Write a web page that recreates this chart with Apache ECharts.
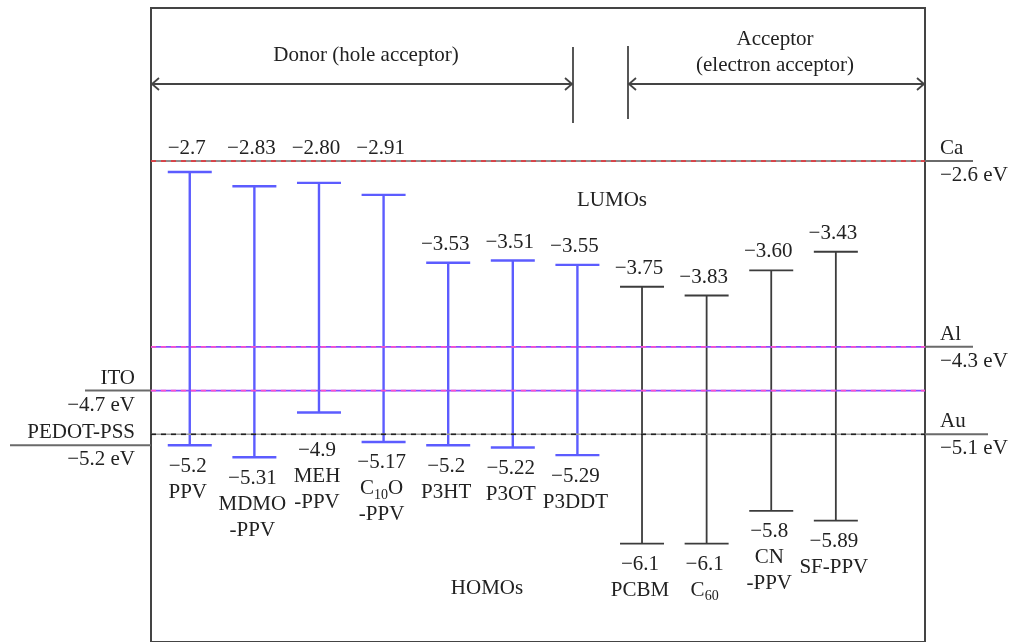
<!DOCTYPE html>
<html>
<head>
<meta charset="utf-8">
<script src="https://cdn.jsdelivr.net/npm/echarts@6/dist/echarts.min.js"></script>
<style>
  html, body { margin: 0; padding: 0; background: #fff; }
  #chart { width: 1011px; height: 642px; }
</style>
</head>
<body>
<div id="chart"></div>
<script>
// Materials (donors then acceptors) with LUMO / HOMO energies in eV
const materials = ['PPV', 'MDMO-PPV', 'MEH-PPV', 'C10O-PPV', 'P3HT', 'P3OT', 'P3DDT', 'PCBM', 'C60', 'CN-PPV', 'SF-PPV'];
const materialLabels = ['PPV', 'MDMO\n-PPV', 'MEH\n-PPV', '{n|C}{s|10}{n|O}\n-PPV', 'P3HT', 'P3OT', 'P3DDT', 'PCBM', '{n|C}{s|60}', 'CN\n-PPV', 'SF-PPV'];
const materialRole = ['donor', 'donor', 'donor', 'donor', 'donor', 'donor', 'donor', 'acceptor', 'acceptor', 'acceptor', 'acceptor'];
const lumo = [-2.7, -2.83, -2.80, -2.91, -3.53, -3.51, -3.55, -3.75, -3.83, -3.60, -3.43];
const lumoDigits = [1, 2, 2, 2, 2, 2, 2, 2, 2, 2, 2];
const homo = [-5.2, -5.31, -4.9, -5.17, -5.2, -5.22, -5.29, -6.1, -6.1, -5.8, -5.89];
const homoDigits = [1, 2, 1, 2, 1, 2, 2, 1, 1, 1, 2];

// Electrode work functions in eV
const electrodes = ['Ca', 'Al', 'ITO', 'Au', 'PEDOT-PSS'];
const electrodeLevels = [-2.6, -4.3, -4.7, -5.1, -5.2];

const FONT = '"Liberation Serif", "DejaVu Serif", serif';
const FS = 21;
const TEXT = '#222';
const fmt = (v, d) => '\u2212' + Math.abs(v).toFixed(d);

const chart = echarts.init(document.getElementById('chart'), null, { renderer: 'canvas' });

// how each electrode level is drawn: inner dashed style and the side of its outer tab
const levelStyle = {
  'Ca':        { side: 'right', outer: 48, base: '#6a6a6a', dash: '#e8343a' },
  'Al':        { side: 'right', outer: 48, base: '#8a4dff', dash: '#ff4fc8' },
  'ITO':       { side: 'left',  outer: 66, base: '#8a4dff', dash: '#ff4fc8' },
  'Au':        { side: 'right', outer: 63, base: '#9a9a9a', dash: '#222222' },
  'PEDOT-PSS': { side: 'left',  outer: 141, base: null, dash: null }
};

function renderLevel(params, api) {
  const idx = api.value(0);
  const name = electrodes[idx];
  const st = levelStyle[name];
  const cs = params.coordSys;
  const y = api.coord([0, api.value(1)])[1];
  const left = cs.x, right = cs.x + cs.width;
  const children = [];
  if (st.base) {
    children.push({ type: 'line', shape: { x1: left, y1: y, x2: right, y2: y },
      style: { stroke: st.base, lineWidth: 1.6 } });
    children.push({ type: 'line', shape: { x1: left, y1: y, x2: right, y2: y },
      style: { stroke: st.dash, lineWidth: 1.6, lineDash: [5, 5] } });
  }
  const x1 = st.side === 'right' ? right : left - st.outer;
  const x2 = st.side === 'right' ? right + st.outer : left;
  children.push({ type: 'line', shape: { x1: x1, y1: y, x2: x2, y2: y },
    style: { stroke: '#6a6a6a', lineWidth: 2 } });
  const tx = st.side === 'right' ? right + 15 : left - 16;
  const align = st.side === 'right' ? 'left' : 'right';
  children.push({ type: 'text', style: { text: name, x: tx, y: y - 2, align: align, verticalAlign: 'bottom',
    font: FS + 'px ' + FONT, fill: TEXT } });
  children.push({ type: 'text', style: { text: fmt(api.value(1), 1) + ' eV', x: tx, y: y + 4, align: align, verticalAlign: 'top',
    font: FS + 'px ' + FONT, fill: TEXT } });
  return { type: 'group', children: children };
}

function renderMaterial(params, api) {
  const i = api.value(0);
  const top = api.coord([i, api.value(1)]);
  const bot = api.coord([i, api.value(2)]);
  const donor = materialRole[i] === 'donor';
  const color = donor ? '#5c5cff' : '#3c3c3c';
  const lw = donor ? 2.4 : 1.8;
  const cap = 22;
  const caY = api.coord([0, electrodeLevels[0]])[1];
  const auY = api.coord([0, electrodeLevels[3]])[1];
  const x = top[0];
  // LUMO value sits above its cap, or above the Ca line when the cap is close to it
  const topLabelY = (top[1] - 30 < caY + 15) ? caY - 2 : top[1] - 8;
  const rich = {
    v: { fontSize: FS, fontFamily: FONT, fill: TEXT, lineHeight: 26 },
    n: { fontSize: FS, fontFamily: FONT, fill: TEXT, lineHeight: 26 },
    s: { fontSize: 14, fontFamily: FONT, fill: TEXT, lineHeight: 16, verticalAlign: 'bottom' }
  };
  const lines = materialLabels[i].split('\n').map(l => l.indexOf('{') >= 0 ? l : '{n|' + l + '}');
  const bottomText = ['{v|' + fmt(api.value(2), homoDigits[i]) + '}'].concat(lines).join('\n');
  return {
    type: 'group',
    children: [
      { type: 'line', shape: { x1: x, y1: top[1], x2: x, y2: bot[1] }, style: { stroke: color, lineWidth: lw } },
      { type: 'line', shape: { x1: x - cap, y1: top[1], x2: x + cap, y2: top[1] }, style: { stroke: color, lineWidth: lw } },
      { type: 'line', shape: { x1: x - cap, y1: bot[1], x2: x + cap, y2: bot[1] }, style: { stroke: color, lineWidth: lw } },
      { type: 'text', style: {
          text: fmt(api.value(1), lumoDigits[i]), x: x - 3,
          y: topLabelY, align: 'center', verticalAlign: 'bottom',
          font: FS + 'px ' + FONT, fill: TEXT } },
      { type: 'text', style: {
          text: bottomText, rich: rich, x: x - 2,
          y: Math.max(bot[1] + 8, auY + 3), align: 'center', verticalAlign: 'top',
          font: FS + 'px ' + FONT, fill: TEXT, lineHeight: 26 } }
    ]
  };
}

// header arrows marking donor and acceptor groups
function chevron(x, y, dir) {
  return { type: 'polyline', shape: { points: [[x - dir * 7, y - 6], [x, y], [x - dir * 7, y + 6]] },
    style: { stroke: '#444', lineWidth: 1.8, fill: null } };
}
const ARROW_Y = 84;

const option = {
  animation: false,
  backgroundColor: '#fff',
  grid: { left: 151, right: 86, top: 8, bottom: -4, show: true, borderColor: '#444', borderWidth: 2, backgroundColor: 'transparent' },
  xAxis: { type: 'value', min: -0.6, max: 11.38, show: false },
  yAxis: { type: 'value', min: -7.0, max: -1.2, show: false },
  series: [
    {
      type: 'custom', name: 'levels', clip: false, z: 3,
      renderItem: renderLevel,
      data: electrodeLevels.map((v, i) => [i, v])
    },
    {
      type: 'custom', name: 'materials', clip: false, z: 2,
      renderItem: renderMaterial,
      data: materials.map((m, i) => [i, lumo[i], homo[i]])
    }
  ],
  graphic: [
    { type: 'line', shape: { x1: 151, y1: ARROW_Y, x2: 573, y2: ARROW_Y }, style: { stroke: '#444', lineWidth: 1.8 } },
    chevron(152, ARROW_Y, -1),
    chevron(572, ARROW_Y, 1),
    { type: 'line', shape: { x1: 573, y1: 47, x2: 573, y2: 123 }, style: { stroke: '#444', lineWidth: 1.8 } },
    { type: 'line', shape: { x1: 628, y1: 46, x2: 628, y2: 119 }, style: { stroke: '#444', lineWidth: 1.8 } },
    { type: 'line', shape: { x1: 628, y1: ARROW_Y, x2: 925, y2: ARROW_Y }, style: { stroke: '#444', lineWidth: 1.8 } },
    chevron(629, ARROW_Y, -1),
    chevron(924, ARROW_Y, 1),
    { type: 'text', style: { text: 'Donor (hole acceptor)', x: 366, y: 55, align: 'center', verticalAlign: 'middle', font: FS + 'px ' + FONT, fill: TEXT } },
    { type: 'text', style: { text: 'Acceptor\n(electron acceptor)', x: 775, y: 52, align: 'center', verticalAlign: 'middle', font: FS + 'px ' + FONT, fill: TEXT, lineHeight: 26 } },
    { type: 'text', style: { text: 'LUMOs', x: 612, y: 200, align: 'center', verticalAlign: 'middle', font: FS + 'px ' + FONT, fill: TEXT } },
    { type: 'text', style: { text: 'HOMOs', x: 487, y: 588, align: 'center', verticalAlign: 'middle', font: FS + 'px ' + FONT, fill: TEXT } }
  ]
};

chart.setOption(option);
</script>
</body>
</html>
